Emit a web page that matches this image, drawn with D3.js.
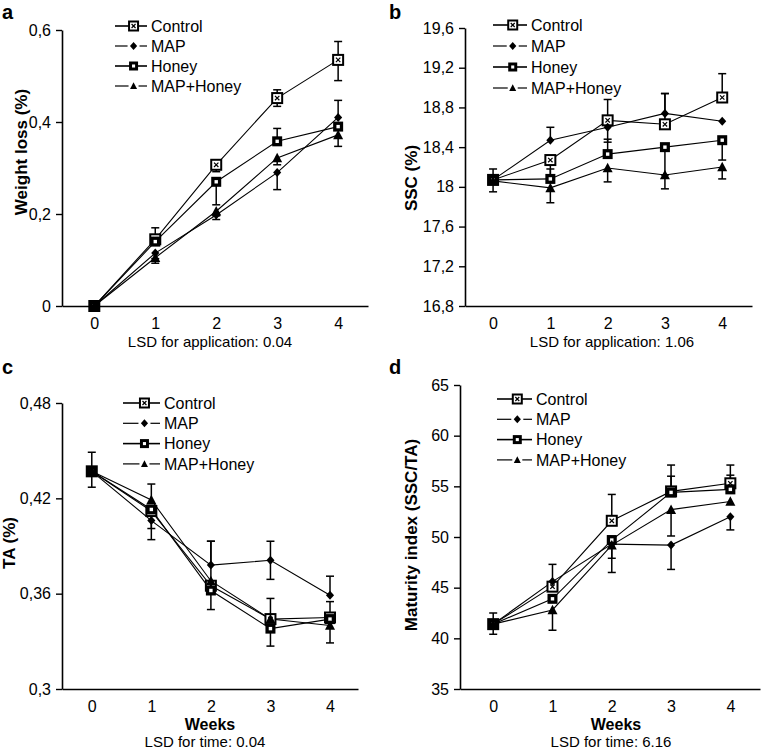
<!DOCTYPE html>
<html>
<head>
<meta charset="utf-8">
<script src="https://cdn.jsdelivr.net/npm/d3@7"></script>
<style>
  body { margin: 0; background: #fff; }
  svg { font-family: "Liberation Sans", Arial, sans-serif; }
  .tick text { font-size: 16px; fill: #000; }
</style>
</head>
<body>
<div id="chart"></div>
<script>
// data
var weeks = [0, 1, 2, 3, 4];
var treatments = ["Control", "MAP", "Honey", "MAP+Honey"];

// a: weight loss (%)
var weightLoss = [
  [0, 0.145, 0.307, 0.452, 0.535],
  [0, 0.115, 0.198, 0.290, 0.410],
  [0, 0.140, 0.270, 0.358, 0.390],
  [0, 0.105, 0.206, 0.322, 0.372]
];
var weightLossUp = [
  [0, 0.025, 0, 0.018, 0.040],
  [0, 0, 0, 0, 0.037],
  [0, 0, 0, 0.028, 0],
  [0, 0, 0, 0, 0]
];
var weightLossDn = [
  [0, 0, 0.015, 0.018, 0.045],
  [0, 0.012, 0.010, 0.037, 0],
  [0, 0, 0.050, 0, 0],
  [0, 0.012, 0.010, 0.015, 0.025]
];
var weightTicks = [0, 0.2, 0.4, 0.6];

// b: SSC (%)
var ssc = [
  [18.07, 18.27, 18.67, 18.63, 18.90],
  [18.07, 18.47, 18.60, 18.74, 18.66],
  [18.07, 18.08, 18.33, 18.40, 18.47],
  [18.06, 17.99, 18.19, 18.12, 18.20]
];
var sscUp = [
  [0.11, 0, 0.21, 0.31, 0.24],
  [0, 0.13, 0, 0.20, 0],
  [0, 0.10, 0.15, 0, 0],
  [0, 0, 0, 0, 0]
];
var sscDn = [
  [0, 0.15, 0, 0, 0],
  [0, 0, 0.15, 0, 0],
  [0, 0, 0, 0.28, 0.20],
  [0.11, 0.15, 0.14, 0.14, 0.12]
];
var sscTicks = [16.8, 17.2, 17.6, 18, 18.4, 18.8, 19.2, 19.6];

// c: TA (%)
var ta = [
  [0.437, 0.412, 0.365, 0.344, 0.345],
  [0.437, 0.406, 0.378, 0.381, 0.359],
  [0.437, 0.413, 0.362, 0.338, 0.344],
  [0.437, 0.419, 0.368, 0.344, 0.340]
];
var taUp = [
  [0.012, 0, 0.028, 0, 0.010],
  [0, 0, 0.015, 0.012, 0.012],
  [0, 0, 0, 0, 0],
  [0, 0.010, 0, 0.013, 0]
];
var taDn = [
  [0, 0, 0, 0, 0],
  [0, 0.012, 0, 0.012, 0],
  [0.010, 0.012, 0.012, 0.011, 0],
  [0, 0, 0, 0, 0.011]
];
var taTicks = [0.3, 0.36, 0.42, 0.48];

// d: maturity index (SSC/TA)
var maturity = [
  [41.4, 45.1, 51.6, 54.5, 55.3],
  [41.4, 45.6, 49.3, 49.2, 52.0],
  [41.4, 43.9, 49.7, 54.4, 54.7],
  [41.4, 42.8, 49.2, 52.7, 53.5]
];
var maturityUp = [
  [1.1, 0, 2.6, 2.6, 1.8],
  [0, 1.7, 0, 0, 0],
  [0, 0, 0, 1.6, 1.4],
  [0, 0, 0, 0, 0]
];
var maturityDn = [
  [1.0, 0, 0, 0, 0],
  [0, 0, 2.8, 2.4, 1.3],
  [0, 0, 1.8, 0, 0],
  [0, 2.0, 0, 2.6, 0]
];
var maturityTicks = [35, 40, 45, 50, 55, 60, 65];

var svgWidth = 761;
var svgHeight = 751;

var svg = d3.select("#chart")
  .append("svg")
  .attr("width", svgWidth)
  .attr("height", svgHeight);

var panels = [
  { letter: "a", lx: 2, ly: 19, left: 62, right: 368, top: 30, bottom: 306, xDom: [-0.53, 4.49],
    yDom: [0, 0.6], ticks: weightTicks, values: weightLoss, up: weightLossUp, dn: weightLossDn,
    yLabel: "Weight loss (%)", yLabelX: 21, yLabelY: 152,
    legX: 115, legY: 26, legDy: 20, legW: 32,
    notes: [{ text: "LSD for application: 0.04", x: 210, y: 347, bold: false }] },
  { letter: "b", lx: 389, ly: 19, left: 465, right: 752, top: 28, bottom: 306, xDom: [-0.49, 4.52],
    yDom: [16.8, 19.6], ticks: sscTicks, values: ssc, up: sscUp, dn: sscDn,
    yLabel: "SSC (%)", yLabelX: 411, yLabelY: 178,
    legX: 493, legY: 25, legDy: 21, legW: 34,
    notes: [{ text: "LSD for application: 1.06", x: 612, y: 347, bold: false }] },
  { letter: "c", lx: 2, ly: 374, left: 62, right: 358, top: 403, bottom: 689, xDom: [-0.5, 4.47],
    yDom: [0.3, 0.48], ticks: taTicks, values: ta, up: taUp, dn: taDn,
    yLabel: "TA (%)", yLabelX: 9, yLabelY: 543,
    legX: 123, legY: 403, legDy: 20.3, legW: 37,
    notes: [{ text: "Weeks", x: 210, y: 730, bold: true }, { text: "LSD for time: 0.04", x: 205, y: 747, bold: false }] },
  { letter: "d", lx: 389, ly: 374, left: 460, right: 760, top: 385, bottom: 689, xDom: [-0.56, 4.5],
    yDom: [35, 65], ticks: maturityTicks, values: maturity, up: maturityUp, dn: maturityDn,
    yLabel: "Maturity index (SSC/TA)", yLabelX: 411, yLabelY: 535,
    legX: 497, legY: 399, legDy: 20.3, legW: 35,
    notes: [{ text: "Weeks", x: 616, y: 730, bold: true }, { text: "LSD for time: 6.16", x: 611, y: 747, bold: false }] }
];

function fmt(v) {
  return String(+v.toFixed(2)).replace(".", ",");
}

// marker drawing, s = size
function drawMarker(g, kind, x, y, s) {
  if (kind === "Control") {
    g.append("rect").attr("x", x - s / 2).attr("y", y - s / 2).attr("width", s).attr("height", s)
      .attr("fill", "#fff").attr("stroke", "#000").attr("stroke-width", 2);
    var c = s * 0.22;
    g.append("path").attr("d", `M${x - c},${y - c}L${x + c},${y + c}M${x + c},${y - c}L${x - c},${y + c}`)
      .attr("stroke", "#000").attr("stroke-width", 1.2);
  } else if (kind === "MAP") {
    var r = s * 0.5;
    g.append("path").attr("d", `M${x},${y - r}L${x + r * 0.9},${y}L${x},${y + r}L${x - r * 0.9},${y}Z`)
      .attr("fill", "#000");
  } else if (kind === "Honey") {
    g.append("rect").attr("x", x - s / 2).attr("y", y - s / 2).attr("width", s).attr("height", s)
      .attr("fill", "#000");
    g.append("rect").attr("x", x - s * 0.17).attr("y", y - s * 0.17).attr("width", s * 0.34).attr("height", s * 0.34)
      .attr("fill", "#fff");
  } else {
    var h = s * 0.95;
    g.append("path").attr("d", `M${x},${y - h * 0.55}L${x + s * 0.5},${y + h * 0.45}L${x - s * 0.5},${y + h * 0.45}Z`)
      .attr("fill", "#000");
  }
}

var markerSize = { "Control": 10, "MAP": 9, "Honey": 10, "MAP+Honey": 10 };

panels.forEach(function(p) {
  var g = svg.append("g");

  var xScale = d3.scaleLinear().domain(p.xDom).range([p.left, p.right]);
  var yScale = d3.scaleLinear().domain(p.yDom).range([p.bottom, p.top]);

  // axes
  var yAxis = d3.axisLeft(yScale).tickValues(p.ticks).tickFormat(fmt).tickSize(6).tickPadding(5).tickSizeOuter(0);
  var xAxis = d3.axisBottom(xScale).tickValues(weeks).tickFormat(d3.format("d")).tickSize(0).tickPadding(12).tickSizeOuter(0);

  var gy = g.append("g").attr("transform", `translate(${p.left},0)`).call(yAxis);
  var gx = g.append("g").attr("transform", `translate(0,${p.bottom})`).call(xAxis);
  [gx, gy].forEach(function(a) {
    a.select(".domain").attr("stroke-width", 1.6);
    a.selectAll(".tick line").attr("stroke-width", 1.4);
    a.selectAll(".tick text").style("font-size", "16px");
  });

  // lines
  var line = d3.line().x((d, i) => xScale(weeks[i])).y(d => yScale(d));
  p.values.forEach(function(vals) {
    g.append("path").datum(vals).attr("d", line)
      .attr("fill", "none").attr("stroke", "#000").attr("stroke-width", 1.1);
  });

  // error bars
  p.values.forEach(function(vals, si) {
    vals.forEach(function(v, i) {
      var x = xScale(weeks[i]);
      [[p.up[si][i], 1], [p.dn[si][i], -1]].forEach(function(e) {
        if (!e[0]) return;
        var y1 = yScale(v), y2 = yScale(v + e[1] * e[0]);
        g.append("line").attr("x1", x).attr("x2", x).attr("y1", y1).attr("y2", y2)
          .attr("stroke", "#000").attr("stroke-width", 1.5);
        g.append("line").attr("x1", x - 4).attr("x2", x + 4).attr("y1", y2).attr("y2", y2)
          .attr("stroke", "#000").attr("stroke-width", 1.5);
      });
    });
  });

  // markers
  p.values.forEach(function(vals, si) {
    vals.forEach(function(v, i) {
      drawMarker(g, treatments[si], xScale(weeks[i]), yScale(v), markerSize[treatments[si]]);
    });
  });

  // legend
  treatments.forEach(function(t, i) {
    var ly = p.legY + i * p.legDy;
    var mx = p.legX + p.legW * 0.58;
    var gap = (t === "MAP") ? 6 : (t === "MAP+Honey" ? 5 : 0);
    var lw = (t === "MAP" || t === "MAP+Honey") ? 1.2 : 1.6;
    g.append("line").attr("x1", p.legX).attr("x2", mx - gap).attr("y1", ly).attr("y2", ly)
      .attr("stroke", "#000").attr("stroke-width", lw);
    g.append("line").attr("x1", mx + gap).attr("x2", p.legX + p.legW).attr("y1", ly).attr("y2", ly)
      .attr("stroke", "#000").attr("stroke-width", lw);
    drawMarker(g, t, mx, ly, t === "MAP" ? 8 : (t === "MAP+Honey" ? 7 : 9));
    g.append("text").attr("x", p.legX + p.legW + 4).attr("y", ly).attr("dy", "0.35em")
      .style("font-size", "16px").text(t);
  });

  // y label
  g.append("text")
    .attr("transform", `translate(${p.yLabelX},${p.yLabelY}) rotate(-90)`)
    .attr("text-anchor", "middle").attr("dy", "0.35em")
    .style("font-size", "17px").style("font-weight", "bold")
    .text(p.yLabel);

  // panel letter
  g.append("text").attr("x", p.lx).attr("y", p.ly)
    .style("font-size", "20px").style("font-weight", "bold").text(p.letter);

  // notes under x axis (baseline placed)
  p.notes.forEach(function(n) {
    g.append("text").attr("x", n.x).attr("y", n.y)
      .attr("text-anchor", "middle")
      .style("font-size", n.bold ? "16px" : "15px").style("font-weight", n.bold ? "bold" : "normal")
      .text(n.text);
  });
});
</script>
</body>
</html>
